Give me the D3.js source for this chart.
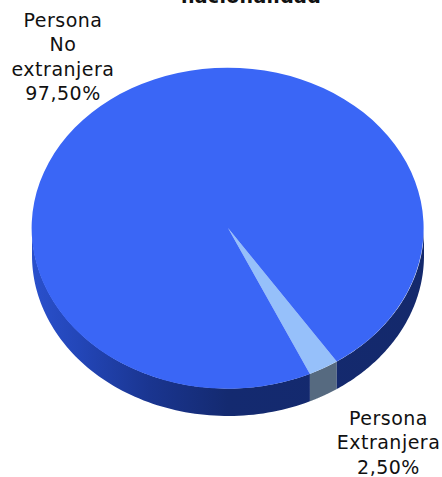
<!DOCTYPE html>
<html><head><meta charset="utf-8">
<script src="https://cdn.jsdelivr.net/npm/d3@7"></script>
<style>html,body{margin:0;padding:0;background:#fff;overflow:hidden}svg{display:block}text{font-family:"DejaVu Sans",sans-serif;fill:#111}</style>
</head><body><svg id="c" width="442" height="477"></svg>
<script>
const categories = ["Persona Extranjera", "Persona No extranjera"];
const values = [2.5, 97.5];
const valueLabels = ["2,50%", "97,50%"];
const labelLines = [["Persona", "Extranjera", "2,50%"], ["Persona", "No", "extranjera", "97,50%"]];
const titleText = "nacionalidad";

const W = 442, H = 477, cx = 228, cy = 228, rx = 196, ry = 160.5, depth = 27.5;
const topColors = ["#96c0fa", "#3a66f6"];
const start = 146.3 * Math.PI / 180;
const svg = d3.select("#c");

const pie = d3.pie().sort(null).startAngle(start).endAngle(start + 2 * Math.PI);
const arcs = pie(values);
const arc = d3.arc().innerRadius(0).outerRadius(1);

const defs = svg.append("defs");
const g1 = defs.append("linearGradient").attr("id", "wallBlue")
  .attr("gradientUnits", "userSpaceOnUse").attr("x1", cx - rx).attr("x2", cx + rx).attr("y1", 0).attr("y2", 0);
[[0, "#2a50cc"], [0.12, "#2346b8"], [0.3, "#1a3590"], [0.5, "#142a70"], [1, "#14296c"]]
  .forEach(([o, c]) => g1.append("stop").attr("offset", o).attr("stop-color", c));

const px = a => cx + rx * Math.sin(a);
const py = a => cy - ry * Math.cos(a);
function wall(a0, a1) {
  const p = d3.path();
  const n = 80;
  const pts = d3.range(n + 1).map(i => a0 + (a1 - a0) * i / n);
  pts.forEach((a, i) => i ? p.lineTo(px(a), py(a)) : p.moveTo(px(a), py(a)));
  pts.slice().reverse().forEach(a => p.lineTo(px(a), py(a) + depth));
  p.closePath();
  return p.toString();
}
const front = [Math.PI / 2, 3 * Math.PI / 2];
const walls = arcs.map((d, i) => {
  const out = [];
  [0, 2 * Math.PI].forEach(shift => {
    const a0 = Math.max(d.startAngle - shift, front[0]);
    const a1 = Math.min(d.endAngle - shift, front[1]);
    if (a1 > a0) out.push([a0, a1, i]);
  });
  return out;
}).flat();

svg.selectAll("path.wall").data(walls).join("path")
  .attr("class", "wall")
  .attr("d", d => wall(d[0], d[1]))
  .attr("fill", d => d[2] === 0 ? "#566a80" : "url(#wallBlue)");

svg.append("g").attr("transform", `translate(${cx},${cy}) scale(${rx},${ry})`)
  .selectAll("path").data(arcs).join("path")
  .attr("d", arc)
  .attr("fill", (d, i) => topColors[i]);

const labelPos = [{x: 388.5, y: 425}, {x: 63, y: 27}];
const lh = 24.3;
labelLines.forEach((lines, i) => {
  const t = svg.append("text").attr("text-anchor", "middle").attr("font-size", 19).attr("letter-spacing", 0.5);
  lines.forEach((s, j) => t.append("tspan").attr("x", labelPos[i].x).attr("y", labelPos[i].y + j * lh).text(s));
});
svg.append("text").attr("x", 251).attr("y", 2.5).attr("text-anchor", "middle")
  .attr("font-size", 19).attr("font-weight", "bold").attr("letter-spacing", 0.3).text(titleText);
</script></body></html>
